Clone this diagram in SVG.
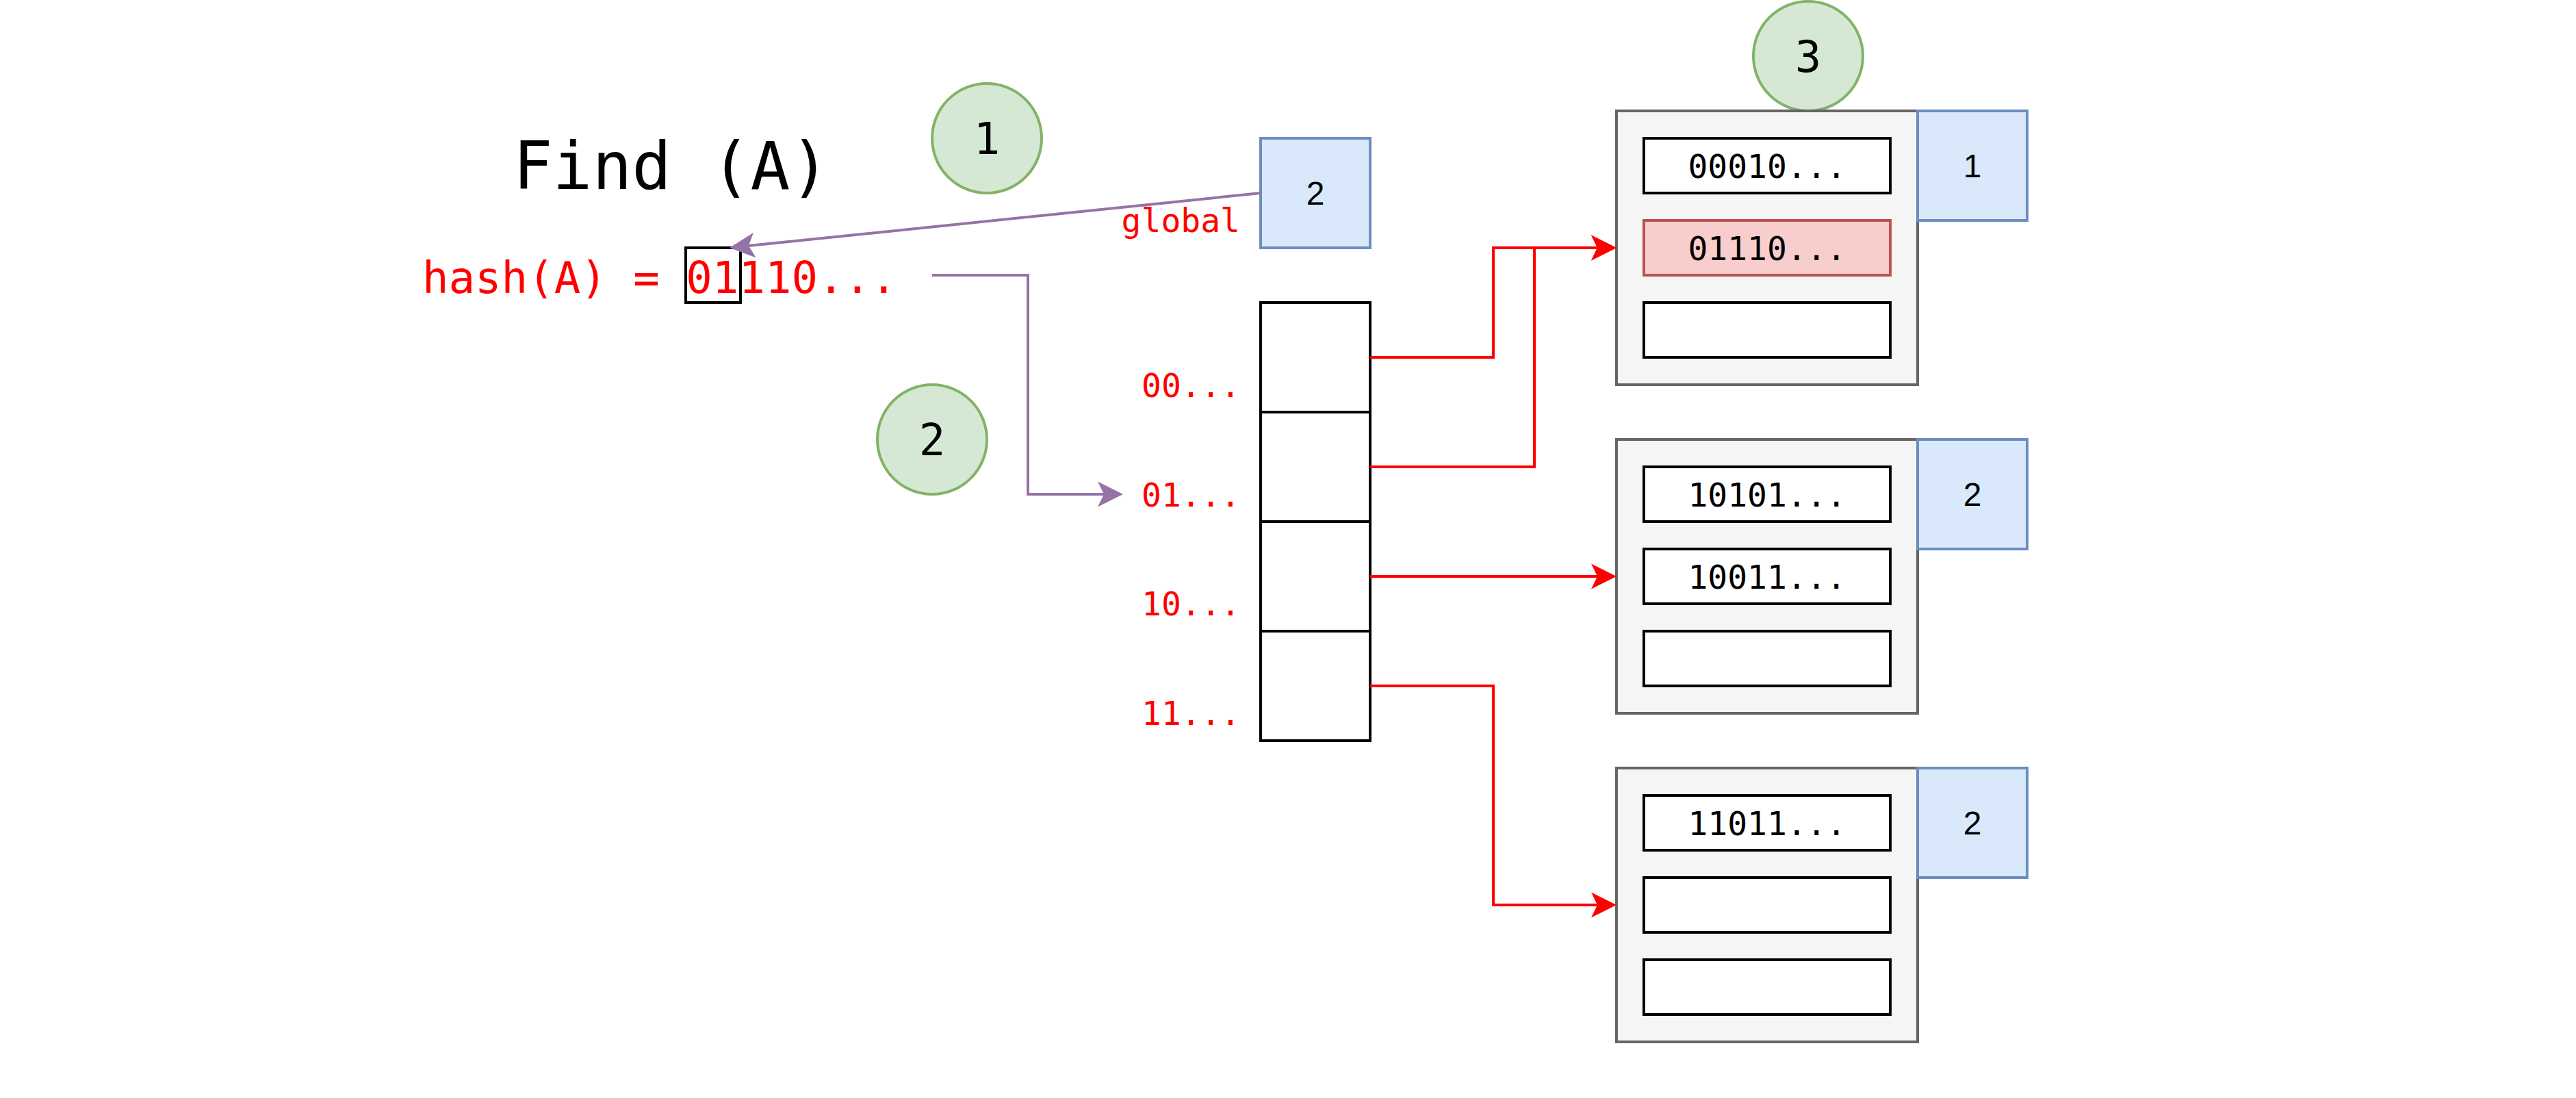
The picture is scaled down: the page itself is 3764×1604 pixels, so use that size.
<svg xmlns="http://www.w3.org/2000/svg" width="3764" height="1604" viewBox="0 0 3764 1604">
<style>
.mono{font-family:"DejaVu Sans Mono","Liberation Mono",monospace}
.sans{font-family:"Liberation Sans",Arial,sans-serif}
.red{fill:#ff0000}
.blk{fill:#000000}
.circ{fill:#d5e8d4;stroke:#82b366;stroke-width:4}
.blue{fill:#dae8fc;stroke:#6c8ebf;stroke-width:4}
.bucket{fill:#f5f5f5;stroke:#666666;stroke-width:4}
.entry{fill:#ffffff;stroke:#000000;stroke-width:4}
.hit{fill:#f8cecc;stroke:#b85450;stroke-width:4}
.cell{fill:#ffffff;stroke:#000000;stroke-width:4}
.rline{fill:none;stroke:#ff0000;stroke-width:4}
.pline{fill:none;stroke:#9673a6;stroke-width:4}
</style>
<defs>
<marker id="arR" markerUnits="userSpaceOnUse" viewBox="-10 -20 40 40" refX="0" refY="0" markerWidth="40" markerHeight="40" orient="auto">
<path d="M28,0 L-9,-18.5 L0,0 L-9,18.5 Z" fill="#ff0000"/>
</marker>
<marker id="arP" markerUnits="userSpaceOnUse" viewBox="-10 -20 40 40" refX="0" refY="0" markerWidth="40" markerHeight="40" orient="auto">
<path d="M28,0 L-9,-18.5 L0,0 L-9,18.5 Z" fill="#9673a6"/>
</marker>
</defs>
<rect width="3764" height="1604" fill="#ffffff"/>

<g id="title"><text class="mono blk" x="981" y="276" font-size="96" text-anchor="middle">Find (A)</text></g>

<g id="hash">
<text class="mono red" x="617" y="428" font-size="64">hash(A) = 01110...</text>
<rect x="1002" y="362" width="80" height="80" fill="none" stroke="#000000" stroke-width="4"/>
</g>

<g id="step1"><circle class="circ" cx="1442" cy="202" r="80"/><text class="mono blk" x="1442" y="225" font-size="64" text-anchor="middle">1</text></g>
<g id="step2"><circle class="circ" cx="1362" cy="642" r="80"/><text class="mono blk" x="1362" y="665" font-size="64" text-anchor="middle">2</text></g>
<g id="step3"><circle class="circ" cx="2642" cy="82" r="80"/><text class="mono blk" x="2642" y="105" font-size="64" text-anchor="middle">3</text></g>

<g id="global-depth">
<rect class="blue" x="1842" y="202" width="160" height="160"/>
<text class="sans blk" x="1922" y="299" font-size="48" text-anchor="middle">2</text>
<text class="mono red" x="1812" y="339" font-size="48" text-anchor="end">global</text>
</g>

<g id="directory">
<rect class="cell" x="1842" y="442" width="160" height="160"/>
<rect class="cell" x="1842" y="602" width="160" height="160"/>
<rect class="cell" x="1842" y="762" width="160" height="160"/>
<rect class="cell" x="1842" y="922" width="160" height="160"/>
<text class="mono red" x="1668" y="580" font-size="48">00...</text>
<text class="mono red" x="1668" y="740" font-size="48">01...</text>
<text class="mono red" x="1668" y="899" font-size="48">10...</text>
<text class="mono red" x="1668" y="1059" font-size="48">11...</text>
</g>

<g id="bucket1">
<rect class="bucket" x="2362" y="162" width="440" height="400"/>
<rect class="entry" x="2402" y="202" width="360" height="80"/>
<text class="mono blk" x="2582" y="260" font-size="48" text-anchor="middle">00010...</text>
<rect class="hit" x="2402" y="322" width="360" height="80"/>
<text class="mono blk" x="2582" y="380" font-size="48" text-anchor="middle">01110...</text>
<rect class="entry" x="2402" y="442" width="360" height="80"/>
<rect class="blue" x="2802" y="162" width="160" height="160"/>
<text class="sans blk" x="2882" y="259" font-size="48" text-anchor="middle">1</text>
</g>

<g id="bucket2">
<rect class="bucket" x="2362" y="642" width="440" height="400"/>
<rect class="entry" x="2402" y="682" width="360" height="80"/>
<text class="mono blk" x="2582" y="740" font-size="48" text-anchor="middle">10101...</text>
<rect class="entry" x="2402" y="802" width="360" height="80"/>
<text class="mono blk" x="2582" y="860" font-size="48" text-anchor="middle">10011...</text>
<rect class="entry" x="2402" y="922" width="360" height="80"/>
<rect class="blue" x="2802" y="642" width="160" height="160"/>
<text class="sans blk" x="2882" y="739" font-size="48" text-anchor="middle">2</text>
</g>

<g id="bucket3">
<rect class="bucket" x="2362" y="1122" width="440" height="400"/>
<rect class="entry" x="2402" y="1162" width="360" height="80"/>
<text class="mono blk" x="2582" y="1220" font-size="48" text-anchor="middle">11011...</text>
<rect class="entry" x="2402" y="1282" width="360" height="80"/>
<rect class="entry" x="2402" y="1402" width="360" height="80"/>
<rect class="blue" x="2802" y="1122" width="160" height="160"/>
<text class="sans blk" x="2882" y="1219" font-size="48" text-anchor="middle">2</text>
</g>

<g id="connectors">
<path class="pline" d="M1842,282 L1093.9,359.1" marker-end="url(#arP)"/>
<path class="pline" d="M1362,402 H1502 V722 H1613" marker-end="url(#arP)"/>
<path class="rline" d="M2002,522 H2182 V362 H2334" marker-end="url(#arR)"/>
<path class="rline" d="M2002,682 H2242 V362 H2334" marker-end="url(#arR)"/>
<path class="rline" d="M2002,842 H2334" marker-end="url(#arR)"/>
<path class="rline" d="M2002,1002 H2182 V1322 H2334" marker-end="url(#arR)"/>
</g>
</svg>
